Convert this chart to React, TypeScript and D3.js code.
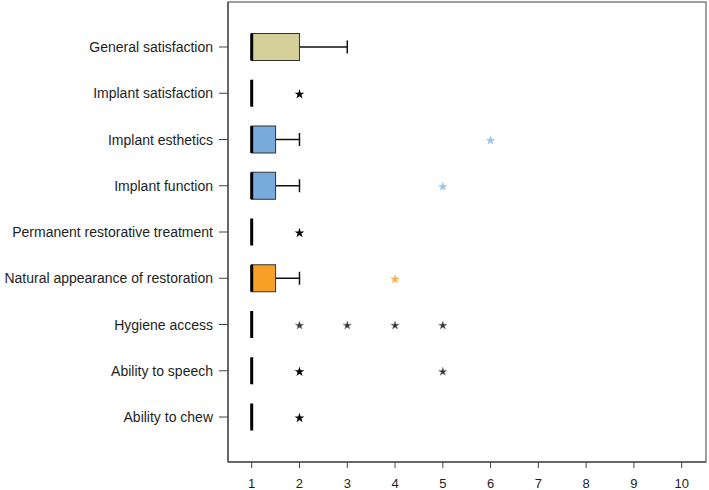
import React from "react";
import * as d3 from "d3";

const categories = [
  "General satisfaction",
  "Implant satisfaction",
  "Implant esthetics",
  "Implant function",
  "Permanent restorative treatment",
  "Natural appearance of restoration",
  "Hygiene access",
  "Ability to speech",
  "Ability to chew",
];
// box stats per category
const q1 = [1, 1, 1, 1, 1, 1, 1, 1, 1];
const median = [1, 1, 1, 1, 1, 1, 1, 1, 1];
const q3 = [2, 1, 1.5, 1.5, 1, 1.5, 1, 1, 1];
const whiskerHigh = [3, 1, 2, 2, 1, 2, 1, 1, 1];
const boxColors = ["#d5d09a", null, "#78aadb", "#78aadb", null, "#f8a025", null, null, null];
// outliers
const outlierCat = [1, 2, 3, 4, 5, 6, 6, 6, 6, 7, 7, 8];
const outlierVal = [2, 6, 5, 2, 4, 2, 3, 4, 5, 2, 5, 2];
const outlierKind = ["bold", "#9dc2e8", "#9dc2e8", "bold", "#f8b04a", "light", "light", "light", "light", "bold", "light", "bold"];
const xTicks = [1, 2, 3, 4, 5, 6, 7, 8, 9, 10];

export default function App() {
  const W = 709, H = 490;
  const frame = { left: 228, top: 2, right: 706, bottom: 462 };
  const x = d3.scaleLinear().domain([1, 10]).range([251.7, 681.7]);
  const y = d3.scalePoint<string>().domain(categories).range([47, 417]);
  const boxH = 27;
  const capH = 13;
  const starBold = d3.symbol().type(d3.symbolStar).size(30)() as string;
  const starLight = d3.symbol().type(d3.symbolStar).size(22)() as string;
  const font = "'Liberation Sans', Arial, sans-serif";

  return (
    <svg width={W} height={H} style={{ position: "absolute", left: 0, top: 0, background: "#fff" }}>
      <rect x={0} y={0} width={W} height={H} fill="#fff" />
      <rect x={frame.left} y={frame.top} width={frame.right - frame.left} height={frame.bottom - frame.top}
        fill="none" stroke="#808080" strokeWidth={1.5} />
      <line x1={frame.left} x2={frame.left} y1={frame.top} y2={frame.bottom} stroke="#555" strokeWidth={1.5} />
      <line x1={frame.left} x2={frame.right} y1={frame.bottom} y2={frame.bottom} stroke="#555" strokeWidth={1.5} />
      {categories.map((c) => (
        <g key={c}>
          <line x1={frame.left - 9} x2={frame.left} y1={y(c)} y2={y(c)} stroke="#444" strokeWidth={1} />
          <text x={frame.left - 15} y={(y(c) as number) + 5} textAnchor="end" fontFamily={font} fontSize={14} fill="#1e1e1e">{c}</text>
        </g>
      ))}
      {xTicks.map((t) => (
        <g key={t}>
          <line x1={x(t)} x2={x(t)} y1={frame.bottom} y2={frame.bottom + 6} stroke="#444" strokeWidth={1} />
          <text x={x(t)} y={488} textAnchor="middle" fontFamily={font} fontSize={13} fill="#1e1e1e">{t}</text>
        </g>
      ))}
      {categories.map((c, i) => {
        const cy = y(c) as number;
        const color = boxColors[i];
        return (
          <g key={c}>
            {whiskerHigh[i] > q3[i] && (
              <>
                <line x1={x(q3[i])} x2={x(whiskerHigh[i])} y1={cy} y2={cy} stroke="#111" strokeWidth={1.5} />
                <line x1={x(whiskerHigh[i])} x2={x(whiskerHigh[i])} y1={cy - capH / 2} y2={cy + capH / 2} stroke="#111" strokeWidth={1.5} />
              </>
            )}
            {color && (
              <rect x={x(q1[i])} y={cy - boxH / 2} width={x(q3[i]) - x(q1[i])} height={boxH}
                fill={color} stroke="#333" strokeWidth={1} />
            )}
            <line x1={x(median[i])} x2={x(median[i])} y1={cy - boxH / 2} y2={cy + boxH / 2} stroke="#000" strokeWidth={3} />
          </g>
        );
      })}
      {outlierCat.map((ci, k) => {
        const kind = outlierKind[k];
        const cx = x(outlierVal[k]);
        const cy = y(categories[ci]) as number;
        if (kind === "bold") {
          return <path key={k} d={starBold} transform={`translate(${cx},${cy + 1})`} fill="#000" />;
        }
        if (kind === "light") {
          return <path key={k} d={starLight} transform={`translate(${cx},${cy + 1})`} fill="#333" stroke="#888" strokeWidth={0.5} />;
        }
        return <path key={k} d={starLight} transform={`translate(${cx},${cy + 1})`} fill={kind} stroke={kind} strokeWidth={0.5} />;
      })}
    </svg>
  );
}
